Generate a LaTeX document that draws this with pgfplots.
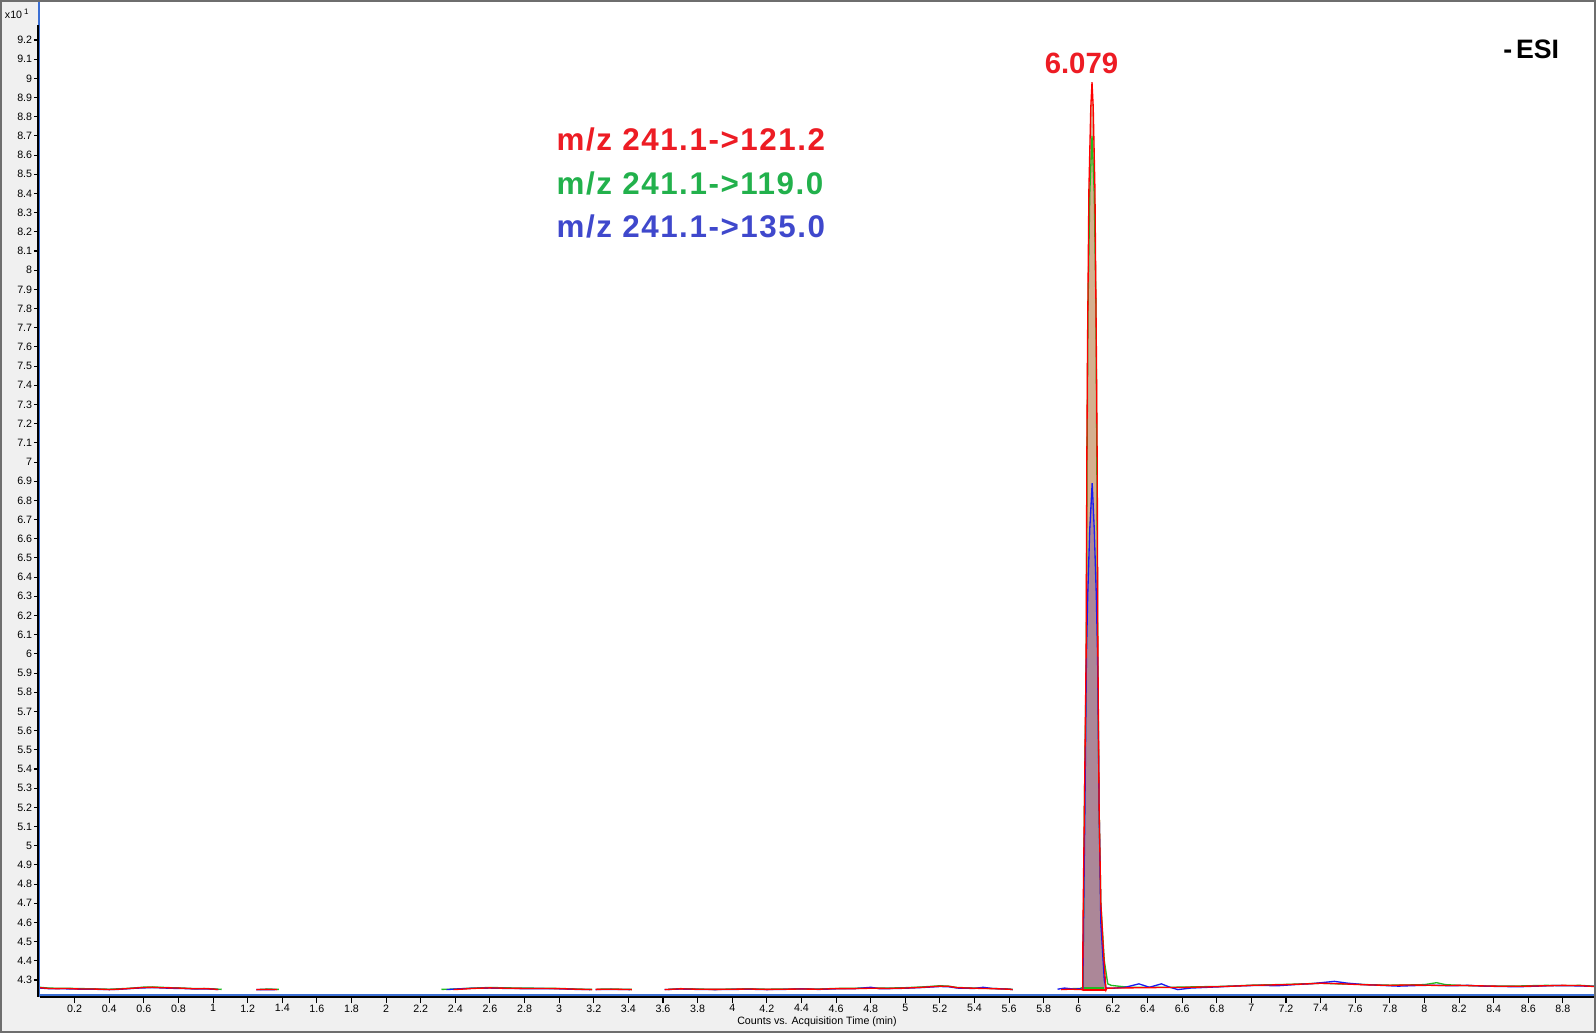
\documentclass[border=0pt]{standalone}
\usepackage{pgfplots}
\pgfplotsset{compat=1.18}
\usepackage{fontspec}
\setmainfont{Liberation Sans}
\newfontfamily\legfont[LetterSpace=5]{Liberation Sans}
\definecolor{bgcol}{HTML}{F0F0F0}
\definecolor{bordercol}{HTML}{6E6E6E}
\definecolor{barblue}{HTML}{3B6FD4}
\definecolor{tred}{HTML}{FF0000}
\definecolor{tgreen}{HTML}{22BB22}
\definecolor{tblue}{HTML}{1A1AF0}
\definecolor{lred}{HTML}{ED1C24}
\definecolor{lgreen}{HTML}{22B14C}
\definecolor{lblue}{HTML}{3F48CC}
\definecolor{tanfill}{HTML}{D5B08F}
\definecolor{mauvefill}{HTML}{AC8798}
\begin{document}
\begin{tikzpicture}[x=1pt,y=1pt]
\fill[bgcol] (0,0) rectangle (1197,774.75);
\fill[white] (30,27) rectangle (1195.5,773.25);
\begin{axis}[
  at={(30pt,27pt)}, anchor=south west,
  scale only axis, width=1165.5pt, height=746.25pt,
  xmin=0, xmax=8.98, ymin=4.2114, ymax=9.3981,
  clip=false,
  axis line style={draw=none},
  xtick={0.2,0.4,0.6,0.8,1,1.2,1.4,1.6,1.8,2,2.2,2.4,2.6,2.8,3,3.2,3.4,3.6,3.8,4,4.2,4.4,4.6,4.8,5,5.2,5.4,5.6,5.8,6,6.2,6.4,6.6,6.8,7,7.2,7.4,7.6,7.8,8,8.2,8.4,8.6,8.8},
  ytick={4.3,4.4,4.5,4.6,4.7,4.8,4.9,5,5.1,5.2,5.3,5.4,5.5,5.6,5.7,5.8,5.9,6,6.1,6.2,6.3,6.4,6.5,6.6,6.7,6.8,6.9,7,7.1,7.2,7.3,7.4,7.5,7.6,7.7,7.8,7.9,8,8.1,8.2,8.3,8.4,8.5,8.6,8.7,8.8,8.9,9,9.1,9.2},
  xtick pos=left, ytick pos=left,
  tick align=outside,
  major tick length=4.5pt,
  tick style={black, line width=0.8pt},
  scaled ticks=false,
  /pgf/number format/.cd, fixed, precision=1, assume math mode=true,
  /pgfplots/.cd,
  tick label style={font=\fontsize{8}{9}\selectfont, black},
  xticklabel style={inner sep=1pt},
  yticklabel style={inner sep=1.2pt},
  unbounded coords=jump,
  every axis plot/.append style={line width=1pt},
]
% integration fills
\addplot[draw=none, fill=tanfill] table {
6.025 4.248
6.027 4.6
6.035 5.2
6.045 6.0
6.049 7.0
6.053 7.6
6.061 8.42
6.072 8.85
6.079 8.98
6.086 8.85
6.096 8.42
6.104 7.6
6.109 7.0
6.113 6.0
6.120 5.2
6.130 4.7
6.145 4.45
6.158 4.27
6.160 4.248
};
\addplot[draw=none, fill=mauvefill] table {
6.026 4.248
6.030 4.6
6.038 5.2
6.047 6.0
6.054 6.3
6.066 6.65
6.080 6.89
6.092 6.65
6.104 6.3
6.111 6.0
6.120 5.2
6.130 4.6
6.150 4.3
6.159 4.248
};
% green trace
\addplot[tgreen] table {
0 4.262
0.05 4.258
0.1 4.257
0.15 4.257
0.2 4.256
0.25 4.255
0.3 4.254
0.35 4.253
0.4 4.252
0.45 4.254
0.5 4.256
0.55 4.259
0.6 4.263
0.65 4.264
0.7 4.262
0.75 4.260
0.8 4.259
0.85 4.257
0.9 4.255
0.95 4.256
1.0 4.254
1.05 4.251
1.1 nan
1.27 4.251
1.32 4.253
1.38 4.251
2.0 nan
2.32 4.251
2.4 4.253
2.5 4.258
2.6 4.261
2.7 4.259
2.8 4.258
2.9 4.257
3.0 4.256
3.1 4.253
3.19 4.251
3.2 nan
3.22 4.252
3.3 4.253
3.42 4.251
3.5 nan
3.63 4.251
3.7 4.255
3.8 4.253
3.9 4.251
4.0 4.253
4.1 4.254
4.2 4.252
4.3 4.253
4.4 4.254
4.5 4.253
4.6 4.256
4.7 4.257
4.8 4.259
4.9 4.258
5.0 4.260
5.1 4.264
5.2 4.270
5.25 4.268
5.3 4.261
5.4 4.258
5.5 4.256
5.6 4.253
5.62 4.251
5.7 nan
5.92 4.252
5.97 4.255
6.01 4.256
6.027 4.262
6.035 5.2
6.046 6.0
6.050 7.0
6.056 7.8
6.066 8.4
6.079 8.70
6.092 8.4
6.102 7.8
6.107 7.0
6.112 6.0
6.120 5.2
6.130 4.7
6.150 4.4
6.170 4.280
6.19 4.272
6.25 4.266
6.3 4.262
6.4 4.262
6.5 4.262
6.6 4.263
6.7 4.265
6.8 4.266
6.9 4.269
7.0 4.273
7.1 4.275
7.2 4.277
7.3 4.280
7.4 4.283
7.5 4.280
7.6 4.278
7.7 4.275
7.8 4.273
7.9 4.274
8.0 4.276
8.07 4.286
8.12 4.276
8.2 4.272
8.3 4.270
8.4 4.268
8.5 4.268
8.6 4.270
8.7 4.272
8.8 4.271
8.9 4.272
8.98 4.268
};
% blue trace
\addplot[tblue] table {
0 4.258
0.05 4.255
0.1 4.254
0.15 4.254
0.2 4.253
0.25 4.252
0.3 4.252
0.35 4.251
0.4 4.250
0.45 4.251
0.5 4.254
0.55 4.257
0.6 4.259
0.65 4.260
0.7 4.259
0.75 4.257
0.8 4.256
0.85 4.255
0.9 4.253
0.95 4.254
1.0 4.252
1.03 4.250
1.1 nan
1.25 4.250
1.31 4.250
1.36 4.250
2.0 nan
2.35 4.250
2.4 4.253
2.5 4.257
2.6 4.258
2.7 4.256
2.8 4.255
2.9 4.255
3.0 4.254
3.1 4.251
3.18 4.250
3.2 nan
3.21 4.250
3.3 4.251
3.41 4.250
3.5 nan
3.61 4.250
3.7 4.253
3.8 4.251
3.9 4.250
4.0 4.251
4.1 4.252
4.2 4.250
4.3 4.251
4.4 4.254
4.5 4.251
4.6 4.254
4.7 4.254
4.8 4.262
4.85 4.255
4.9 4.255
5.0 4.257
5.1 4.261
5.2 4.266
5.25 4.265
5.3 4.258
5.4 4.256
5.45 4.262
5.5 4.256
5.6 4.252
5.62 4.250
5.64 nan
5.88 4.252
5.92 4.258
5.97 4.253
6.01 4.254
6.026 4.252
6.030 4.6
6.038 5.2
6.047 6.0
6.054 6.3
6.066 6.65
6.080 6.89
6.092 6.65
6.104 6.3
6.111 6.0
6.120 5.2
6.130 4.6
6.150 4.3
6.160 4.258
6.2 4.257
6.27 4.262
6.35 4.280
6.41 4.262
6.48 4.280
6.53 4.262
6.575 4.250
6.65 4.258
6.75 4.262
6.85 4.266
6.95 4.270
7.05 4.272
7.15 4.270
7.25 4.276
7.35 4.281
7.48 4.293
7.55 4.284
7.65 4.276
7.75 4.272
7.85 4.268
7.95 4.271
8.05 4.273
8.15 4.270
8.25 4.272
8.35 4.268
8.45 4.266
8.55 4.265
8.65 4.268
8.75 4.271
8.85 4.270
8.98 4.267
};
% red trace
\addplot[tred] table {
0 4.260
0.05 4.256
0.1 4.255
0.15 4.256
0.2 4.254
0.25 4.253
0.3 4.253
0.35 4.252
0.4 4.250
0.45 4.252
0.5 4.255
0.55 4.258
0.6 4.261
0.65 4.262
0.7 4.260
0.75 4.259
0.8 4.258
0.85 4.256
0.9 4.254
0.95 4.255
1.0 4.253
1.03 4.250
1.1 nan
1.25 4.250
1.31 4.251
1.37 4.250
2.0 nan
2.39 4.250
2.45 4.253
2.5 4.256
2.6 4.259
2.7 4.257
2.8 4.256
2.9 4.256
3.0 4.255
3.1 4.252
3.19 4.250
3.2 nan
3.21 4.251
3.3 4.252
3.42 4.250
3.5 nan
3.61 4.250
3.7 4.254
3.8 4.252
3.9 4.251
4.0 4.252
4.1 4.253
4.2 4.251
4.3 4.252
4.4 4.253
4.5 4.252
4.6 4.255
4.7 4.255
4.8 4.257
4.9 4.256
5.0 4.258
5.1 4.262
5.2 4.268
5.25 4.267
5.3 4.260
5.4 4.257
5.5 4.255
5.6 4.252
5.62 4.250
5.7 nan
5.9 4.250
5.95 4.252
5.99 4.251
6.02 4.250
6.025 4.248
6.027 4.6
6.035 5.2
6.045 6.0
6.049 7.0
6.053 7.6
6.061 8.42
6.072 8.85
6.079 8.98
6.086 8.85
6.096 8.42
6.104 7.6
6.109 7.0
6.113 6.0
6.120 5.2
6.130 4.7
6.145 4.45
6.158 4.27
6.160 4.248
6.165 4.257
6.2 4.258
6.3 4.259
6.4 4.260
6.5 4.261
6.6 4.261
6.7 4.263
6.8 4.265
6.9 4.268
7.0 4.272
7.1 4.274
7.2 4.276
7.3 4.279
7.4 4.283
7.5 4.281
7.6 4.277
7.7 4.274
7.8 4.272
7.9 4.274
8.0 4.273
8.1 4.271
8.2 4.272
8.3 4.270
8.4 4.268
8.5 4.267
8.6 4.268
8.7 4.270
8.8 4.272
8.9 4.271
8.98 4.266
};
% baselines under the peak
\addplot[tgreen] table {
6.03 4.259
6.15 4.259
};
\addplot[tred] table {
6.025 4.248
6.160 4.248
};
% annotations
\node[anchor=base, text=lred, font=\bfseries\fontsize{22}{25}\selectfont] at (axis cs:6.018,9.023) {6.079};
\node[anchor=base west, inner sep=0pt, text=lred, font=\legfont\bfseries\fontsize{23.5}{26}\selectfont] at (axis cs:2.984,8.623) {m/z 241.1->121.2};
\node[anchor=base west, inner sep=0pt, text=lgreen, font=\legfont\bfseries\fontsize{23.5}{26}\selectfont] at (axis cs:2.984,8.397) {m/z 241.1->119.0};
\node[anchor=base west, inner sep=0pt, text=lblue, font=\legfont\bfseries\fontsize{23.5}{26}\selectfont] at (axis cs:2.984,8.171) {m/z 241.1->135.0};
\node[anchor=base west, inner sep=0pt, font=\bfseries\fontsize{20}{23}\selectfont] at (axis cs:8.454,9.105) {-\kern3pt ESI};
% axis decorations
\draw[barblue, line width=1.5pt] ([xshift=-0.8pt]rel axis cs:0,0) -- ([xshift=-0.8pt]rel axis cs:0,1);
\draw[black, line width=1.5pt] ([xshift=-1.6pt]axis cs:0,9.278) -- ([xshift=-1.6pt]axis cs:0,4.2114);
\draw[barblue, line width=1.5pt] ([yshift=1.6pt]rel axis cs:0,0) -- ([yshift=1.6pt]rel axis cs:1,0);
\draw[black, line width=0.9pt] (rel axis cs:0,0) -- (rel axis cs:1,0);
\node[anchor=center, inner sep=0pt, font=\fontsize{8}{9}\selectfont] at ([yshift=-18.5pt]axis cs:4.49,4.2114) {Counts vs. Acquisition Time (min)};
\end{axis}
\node[anchor=base west, inner sep=0pt, font=\fontsize{8}{9}\selectfont] at (3.5,761) {x10\kern1.5pt\raisebox{2.5pt}{\fontsize{6}{7}\selectfont 1}};
\draw[bordercol, line width=1.5pt] (0.75,0.75) rectangle (1196.25,774);
\pgfresetboundingbox
\useasboundingbox (0,0) rectangle (1197,774.75);
\end{tikzpicture}
\end{document}
